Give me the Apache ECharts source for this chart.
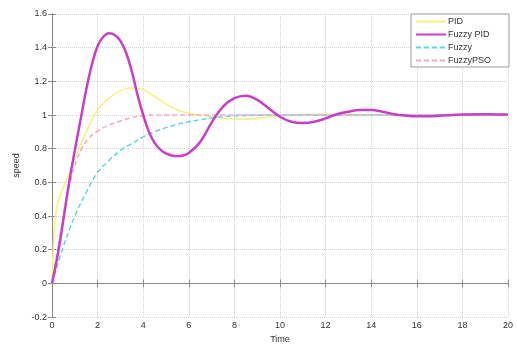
<!DOCTYPE html>
<html><head><meta charset="utf-8">
<script src="https://cdn.jsdelivr.net/npm/echarts@6/dist/echarts.min.js"></script>
<style>html,body{margin:0;padding:0;background:#fff}#c{width:517px;height:349px}</style>
</head><body><div id="c"></div>
<script>
// ---- data ----
var xTicks = [0, 2, 4, 6, 8, 10, 12, 14, 16, 18, 20];
var yTicks = [-0.2, 0, 0.2, 0.4, 0.6, 0.8, 1, 1.2, 1.4, 1.6];

var tPID = [0, 0.05, 0.15, 0.3, 0.5, 0.75, 1, 1.5, 2, 2.5, 3, 3.5, 4, 4.5, 5, 5.5, 6, 6.5, 7, 7.5, 8, 8.5, 9, 10, 11, 12, 13, 14, 15, 16, 18, 20];
var vPID = [0, 0.2, 0.4, 0.5, 0.57, 0.65, 0.74, 0.9, 1.03, 1.1, 1.145, 1.16, 1.15, 1.11, 1.065, 1.03, 1.01, 1.0, 0.99, 0.98, 0.975, 0.975, 0.98, 0.995, 1.003, 1.005, 1.004, 1.002, 1.0, 1.0, 1.0, 1.0];

var tFPID = [0, 0.25, 0.5, 0.75, 1, 1.25, 1.5, 1.75, 2, 2.25, 2.5, 2.75, 3, 3.25, 3.5, 3.75, 4, 4.25, 4.5, 4.75, 5, 5.25, 5.5, 5.75, 6, 6.5, 7, 7.5, 8, 8.5, 9, 9.5, 10, 10.5, 11, 11.5, 12, 12.5, 13, 13.5, 14, 14.5, 15, 15.5, 16, 16.5, 17, 18, 19, 20];
var vFPID = [0, 0.17, 0.38, 0.6, 0.79, 0.97, 1.15, 1.3, 1.41, 1.465, 1.485, 1.475, 1.44, 1.37, 1.26, 1.12, 1.0, 0.9, 0.835, 0.795, 0.772, 0.76, 0.756, 0.76, 0.775, 0.84, 0.955, 1.05, 1.1, 1.115, 1.09, 1.04, 0.99, 0.96, 0.952, 0.96, 0.98, 1.005, 1.02, 1.03, 1.03, 1.02, 1.005, 0.997, 0.993, 0.993, 0.996, 1.003, 1.005, 1.003];

var tFuzzy = [0, 0.5, 1, 1.5, 2, 2.5, 3, 3.5, 4, 4.5, 5, 5.5, 6, 6.5, 7, 7.5, 8, 9, 10, 12, 14, 16, 18, 20];
var vFuzzy = [0, 0.22, 0.4, 0.54, 0.66, 0.73, 0.79, 0.83, 0.87, 0.9, 0.925, 0.945, 0.96, 0.972, 0.982, 0.99, 0.995, 0.999, 1.0, 1.0, 1.0, 1.0, 1.0, 1.0];

var tPSO = [0, 0.25, 0.5, 0.75, 1, 1.3, 1.6, 2, 2.5, 3, 3.5, 4, 4.5, 5, 6, 8, 10, 12, 14, 16, 18, 20];
var vPSO = [0, 0.2, 0.4, 0.57, 0.7, 0.8, 0.86, 0.905, 0.94, 0.965, 0.985, 0.997, 1.0, 1.0, 1.0, 1.0, 1.0, 1.0, 1.0, 1.0, 1.0, 1.0];

var names = ['PID', 'Fuzzy PID', 'Fuzzy', 'FuzzyPSO'];

function pairs(t, v) { return t.map(function (x, i) { return [x, v[i]]; }); }

var chart = echarts.init(document.getElementById('c'), null, {renderer: 'canvas'});
var font = 'Liberation Sans, Arial, sans-serif';
var grid = {type: 'dotted', color: '#d4d4d4', width: 1};
var axLine = {show: true, lineStyle: {color: '#8a8a8a', width: 1}};
var tick = {show: true, inside: true, length: 4, lineStyle: {color: '#8a8a8a'}};

chart.setOption({
  animation: false,
  backgroundColor: '#fff',
  grid: {left: 52, right: 9, top: 14, bottom: 24, show: false},
  xAxis: [{
    type: 'value', min: xTicks[0], max: xTicks[xTicks.length - 1], interval: 2,
    name: 'Time', nameLocation: 'middle', nameGap: 13,
    nameTextStyle: {fontFamily: font, fontSize: 9, color: '#333'},
    axisLine: axLine, axisTick: tick,
    axisLabel: {fontFamily: font, fontSize: 9, color: '#333', margin: 4},
    splitLine: {show: true, lineStyle: grid}
  }, {
    type: 'value', position: 'top', min: xTicks[0], max: xTicks[xTicks.length - 1], interval: 2,
    axisLine: axLine, axisTick: tick, axisLabel: {show: false}, splitLine: {show: false}
  }],
  yAxis: [{
    type: 'value', min: yTicks[0], max: yTicks[yTicks.length - 1], interval: 0.2,
    name: 'speed', nameLocation: 'middle', nameGap: 19, nameRotate: 90,
    nameTextStyle: {fontFamily: font, fontSize: 9, color: '#333'},
    axisLine: axLine, axisTick: tick,
    axisLabel: {fontFamily: font, fontSize: 9, color: '#333', margin: 5,
      formatter: function (v) { return String(+v.toFixed(1)); }},
    splitLine: {show: true, lineStyle: grid}
  }, {
    type: 'value', position: 'right', min: yTicks[0], max: yTicks[yTicks.length - 1], interval: 0.2,
    axisLine: axLine, axisTick: tick, axisLabel: {show: false}, splitLine: {show: false}
  }],
  legend: {
    orient: 'vertical', left: 411, top: 14,
    padding: [3, 18, 2, 4], itemGap: 4, itemWidth: 30, itemHeight: 10,
    borderColor: '#9a9a9a', borderWidth: 1, backgroundColor: '#fff',
    itemStyle: {opacity: 0, borderWidth: 0},
    textStyle: {fontFamily: font, fontSize: 9, color: '#333', padding: [0, 0, 0, -3]},
    data: names
  },
  series: [
    {name: names[0], type: 'line', smooth: 0.4, showSymbol: false, symbol: 'none',
     lineStyle: {color: '#f7f07a', width: 1.5}, itemStyle: {color: '#f7f07a'},
     data: pairs(tPID, vPID), z: 2},
    {name: names[1], type: 'line', smooth: 0.4, showSymbol: false, symbol: 'none',
     lineStyle: {color: '#c93ec9', width: 2.5}, itemStyle: {color: '#c93ec9'},
     data: pairs(tFPID, vFPID), z: 5},
    {name: names[2], type: 'line', smooth: 0.4, showSymbol: false, symbol: 'none',
     lineStyle: {color: '#5fd3ea', width: 1.5, type: [5, 3]}, itemStyle: {color: '#5fd3ea'},
     data: pairs(tFuzzy, vFuzzy), z: 3},
    {name: names[3], type: 'line', smooth: 0.4, showSymbol: false, symbol: 'none',
     lineStyle: {color: '#f2aac6', width: 1.5, type: [5, 3]}, itemStyle: {color: '#f2aac6'},
     data: pairs(tPSO, vPSO), z: 4}
  ]
});
</script></body></html>
